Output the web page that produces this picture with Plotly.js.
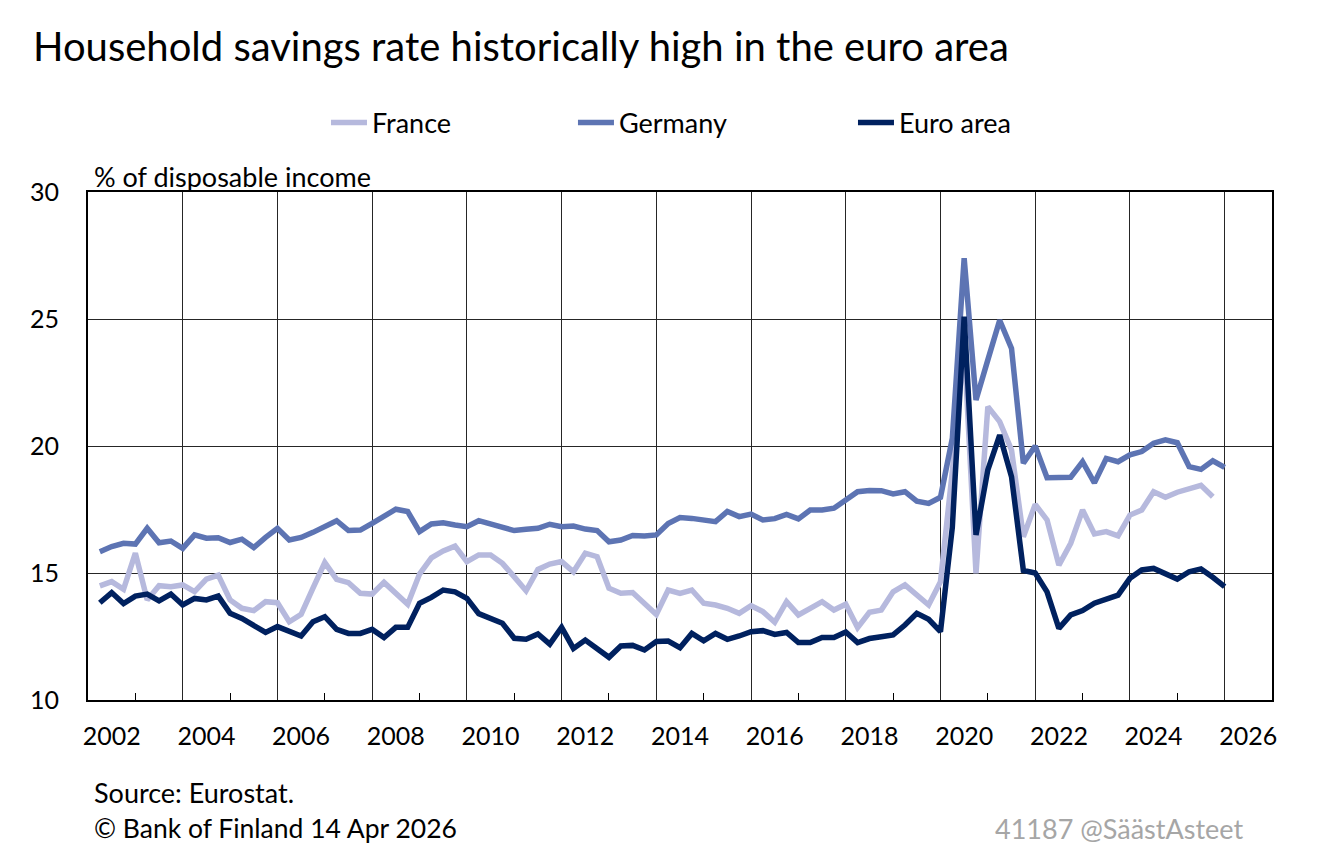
<!DOCTYPE html>
<html>
<head>
<meta charset="utf-8">
<script src="https://cdn.plot.ly/plotly-3.0.1.min.js"></script>
<style>
  html, body { margin: 0; padding: 0; background: #fff; }
  #chart { width: 1318px; height: 861px; }
</style>
</head>
<body>
<div id="chart"></div>
<script>
// Quarterly data, 2002Q1 .. 2025Q4 (% of disposable income)
const startYear = 2002;
const germany = [
  15.84, 16.04, 16.17, 16.14, 16.76, 16.19, 16.26, 15.97, 16.50, 16.37, 16.39, 16.20, 16.33, 16.00, 16.40, 16.76,
  16.30, 16.40, 16.60, 16.82, 17.06, 16.67, 16.69, 16.95, 17.22, 17.51, 17.42, 16.63, 16.93, 16.98, 16.89, 16.82,
  17.06, 16.93, 16.85, 16.67, 16.72, 16.76, 16.92, 16.82, 16.85, 16.73, 16.67, 16.23, 16.30, 16.48, 16.46, 16.50,
  16.95, 17.18, 17.15, 17.11, 17.02, 17.42, 17.22, 17.32, 17.09, 17.14, 17.31, 17.13, 17.48, 17.48, 17.55, 17.87,
  18.20, 18.25, 18.24, 18.11, 18.20, 17.83, 17.74, 17.98, 20.30, 27.39, 21.81, 23.39, 24.95, 23.84, 19.32, 20.00,
  18.75, 18.76, 18.77, 19.38, 18.55, 19.51, 19.38, 19.65, 19.78, 20.11, 20.24, 20.13, 19.19, 19.08, 19.42, 19.16
];
const france = [
  14.49, 14.66, 14.36, 15.78, 13.94, 14.50, 14.46, 14.53, 14.27, 14.76, 14.92, 13.94, 13.61, 13.52, 13.87, 13.83,
  13.08, 13.37, 14.40, 15.41, 14.75, 14.62, 14.20, 14.17, 14.63, 14.23, 13.77, 14.96, 15.60, 15.87, 16.06, 15.45,
  15.71, 15.71, 15.38, 14.85, 14.30, 15.14, 15.35, 15.45, 15.05, 15.78, 15.64, 14.40, 14.20, 14.23, 13.77, 13.37,
  14.33, 14.20, 14.33, 13.81, 13.74, 13.61, 13.41, 13.71, 13.48, 13.06, 13.87, 13.35, 13.61, 13.87, 13.54, 13.77,
  12.85, 13.45, 13.54, 14.26, 14.53, 14.13, 13.74, 14.66, 19.00, 24.00, 14.99, 21.55, 20.96, 19.84, 16.43, 17.70,
  17.09, 15.31, 16.17, 17.48, 16.54, 16.63, 16.46, 17.28, 17.48, 18.20, 17.98, 18.18, 18.29, 18.45, 18.00
];
const euroArea = [
  13.83, 14.23, 13.80, 14.09, 14.17, 13.90, 14.17, 13.74, 14.00, 13.94, 14.09, 13.41, 13.21, 12.95, 12.66, 12.89,
  12.69, 12.52, 13.08, 13.28, 12.78, 12.62, 12.62, 12.78, 12.46, 12.86, 12.86, 13.81, 14.04, 14.33, 14.26, 14.00,
  13.40, 13.21, 13.02, 12.43, 12.39, 12.60, 12.20, 12.86, 12.03, 12.36, 12.00, 11.68, 12.13, 12.15, 11.97, 12.30,
  12.32, 12.06, 12.62, 12.33, 12.62, 12.39, 12.52, 12.69, 12.73, 12.58, 12.66, 12.26, 12.26, 12.46, 12.46, 12.68,
  12.26, 12.42, 12.49, 12.56, 12.95, 13.41, 13.18, 12.69, 16.80, 25.09, 16.50, 19.06, 20.43, 18.79, 15.10, 15.00,
  14.26, 12.82, 13.35, 13.52, 13.81, 13.96, 14.13, 14.79, 15.12, 15.18, 14.99, 14.76, 15.05, 15.16, 14.83, 14.46
];
const yearLabels = ['2002','2004','2006','2008','2010','2012','2014','2016','2018','2020','2022','2024','2026'];

// x position of each quarter = end of the quarter in fractional years
function quarterX(n) {
  const xs = [];
  for (let i = 0; i < n; i++) xs.push(startYear + (i + 1) / 4);
  return xs;
}
const labelPos = yearLabels.map(y => Number(y) + 0.5);

const FONT = 'Lato, "Open Sans", sans-serif';
const TXT = 27;
const colFrance = '#B6B9DD';
const colGermany = '#5D74B3';
const colEuro = '#00215F';
const LW = 5.5;

const traces = [
  { x: quarterX(france.length), y: france, name: 'France', type: 'scatter', mode: 'lines',
    line: { color: colFrance, width: LW }, legend: 'legend' },
  { x: quarterX(germany.length), y: germany, name: 'Germany', type: 'scatter', mode: 'lines',
    line: { color: colGermany, width: LW }, legend: 'legend2' },
  { x: quarterX(euroArea.length), y: euroArea, name: 'Euro area', type: 'scatter', mode: 'lines',
    line: { color: colEuro, width: LW }, legend: 'legend3' },
  // empty carrier trace so that the label axis (x2) is drawn
  { x: [], y: [], xaxis: 'x2', yaxis: 'y', type: 'scatter', mode: 'lines',
    showlegend: false, hoverinfo: 'skip' }
];

const legendBase = {
  orientation: 'h', yanchor: 'middle', xanchor: 'left', y: 1.136,
  font: { family: FONT, size: TXT, color: '#000' }, bgcolor: 'rgba(0,0,0,0)',
  borderwidth: 0, itemclick: false, itemdoubleclick: false, itemwidth: 36
};

const layout = {
  width: 1318, height: 861,
  margin: { l: 88, r: 46, t: 192, b: 161 },
  paper_bgcolor: '#fff', plot_bgcolor: '#fff',
  font: { family: FONT, size: TXT, color: '#000' },
  title: { text: 'Household savings rate historically high in the euro area',
    x: 33 / 1318, xanchor: 'left', xref: 'container',
    y: 1 - 47 / 861, yanchor: 'middle', yref: 'container',
    font: { family: FONT, size: 40, color: '#000' } },
  showlegend: true,
  legend: Object.assign({}, legendBase, { x: 0.201 }),
  legend2: Object.assign({}, legendBase, { x: 0.4096 }),
  legend3: Object.assign({}, legendBase, { x: 0.6461 }),
  xaxis: {
    range: [2002, 2027], tickmode: 'linear', tick0: 2004, dtick: 2,
    showticklabels: false, ticks: '', showgrid: true, gridcolor: '#262626', gridwidth: 1,
    zeroline: false, showline: true, linecolor: '#000', linewidth: 2, mirror: true,
    minor: { tickmode: 'linear', tick0: 2003, dtick: 1, ticks: 'inside', ticklen: 7,
      tickcolor: '#000', tickwidth: 1, showgrid: false },
    fixedrange: true
  },
  xaxis2: {
    overlaying: 'x', matches: 'x', anchor: 'y', side: 'bottom',
    range: [2002, 2027], tickmode: 'array', tickvals: labelPos, ticktext: yearLabels,
    ticks: '', showgrid: false, zeroline: false, showline: false,
    ticklabelstandoff: 19,
    tickfont: { family: FONT, size: 25, color: '#000' }
  },
  yaxis: {
    range: [10, 30], tickmode: 'linear', tick0: 10, dtick: 5,
    showgrid: true, gridcolor: '#262626', gridwidth: 1, zeroline: false,
    showline: true, linecolor: '#000', linewidth: 2, mirror: true, ticks: '',
    ticklabelstandoff: 22,
    tickfont: { family: FONT, size: 25, color: '#000' }, fixedrange: true
  },
  annotations: [
    { text: '% of disposable income', xref: 'paper', yref: 'paper', x: 0.0034, y: 1,
      xanchor: 'left', yanchor: 'bottom', yshift: -3, showarrow: false,
      font: { family: FONT, size: TXT, color: '#000' } },
    { text: 'Source: Eurostat.', xref: 'paper', yref: 'paper', x: 0.0034, y: -0.183,
      xanchor: 'left', yanchor: 'middle', showarrow: false,
      font: { family: FONT, size: TXT, color: '#000' } },
    { text: '© Bank of Finland 14 Apr 2026', xref: 'paper', yref: 'paper', x: 0.0034, y: -0.252,
      xanchor: 'left', yanchor: 'middle', showarrow: false,
      font: { family: FONT, size: 26.5, color: '#000' } },
    { text: '41187 @SäästAsteet', xref: 'paper', yref: 'paper', x: (1245 - 88) / 1184, y: -0.252,
      xanchor: 'right', yanchor: 'middle', showarrow: false,
      font: { family: FONT, size: TXT, color: '#A6A6A6' } }
  ]
};

Plotly.newPlot('chart', traces, layout, { displayModeBar: false, staticPlot: true });
</script>
</body>
</html>
